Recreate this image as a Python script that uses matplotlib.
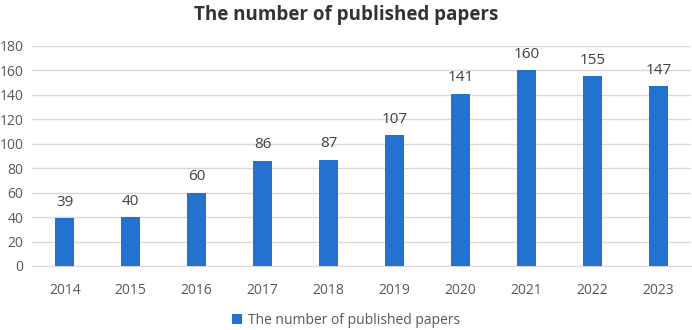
import matplotlib.pyplot as plt
import numpy as np

years = ['2014', '2015', '2016', '2017', '2018', '2019', '2020', '2021', '2022', '2023']
papers = [39, 40, 60, 86, 87, 107, 141, 160, 155, 147]

plt.rcParams['font.family'] = ['Open Sans', 'DejaVu Sans']

fig = plt.figure(figsize=(6.92, 3.3), dpi=100)
ax = fig.add_axes([0.046, 0.194, 0.953, 0.667])

x = np.arange(len(years))
bars = ax.bar(x, papers, width=0.29, color='#2372d0', label='The number of published papers', zorder=3)
for xi, v in zip(x, papers):
    ax.text(xi, v + 7, str(v), ha='center', va='bottom', fontsize=11, color='#404040')

ax.set_xlim(-0.5, len(years) - 0.5)
ax.set_ylim(0, 180)
ax.set_yticks(range(0, 181, 20))
ax.set_xticks(x)
ax.set_xticklabels(years)
ax.grid(axis='y', color='#d9d9d9', linewidth=1, zorder=0)
for s in ['top', 'right', 'left']:
    ax.spines[s].set_visible(False)
ax.spines['bottom'].set_color('#d9d9d9')
ax.tick_params(length=0, labelsize=10, colors='#595959')
ax.tick_params(axis='x', pad=12)
ax.tick_params(axis='y', pad=6)

fig.text(0.5, 0.955, 'The number of published papers', ha='center', va='center',
         fontsize=13.5, fontweight='bold', color='#333333')
fig.legend(loc='center', bbox_to_anchor=(0.5, 0.03), frameon=False, fontsize=10,
           labelcolor='#595959', handlelength=0.7, handleheight=0.7, handletextpad=0.4)

fig.savefig('out.png', dpi=100)
